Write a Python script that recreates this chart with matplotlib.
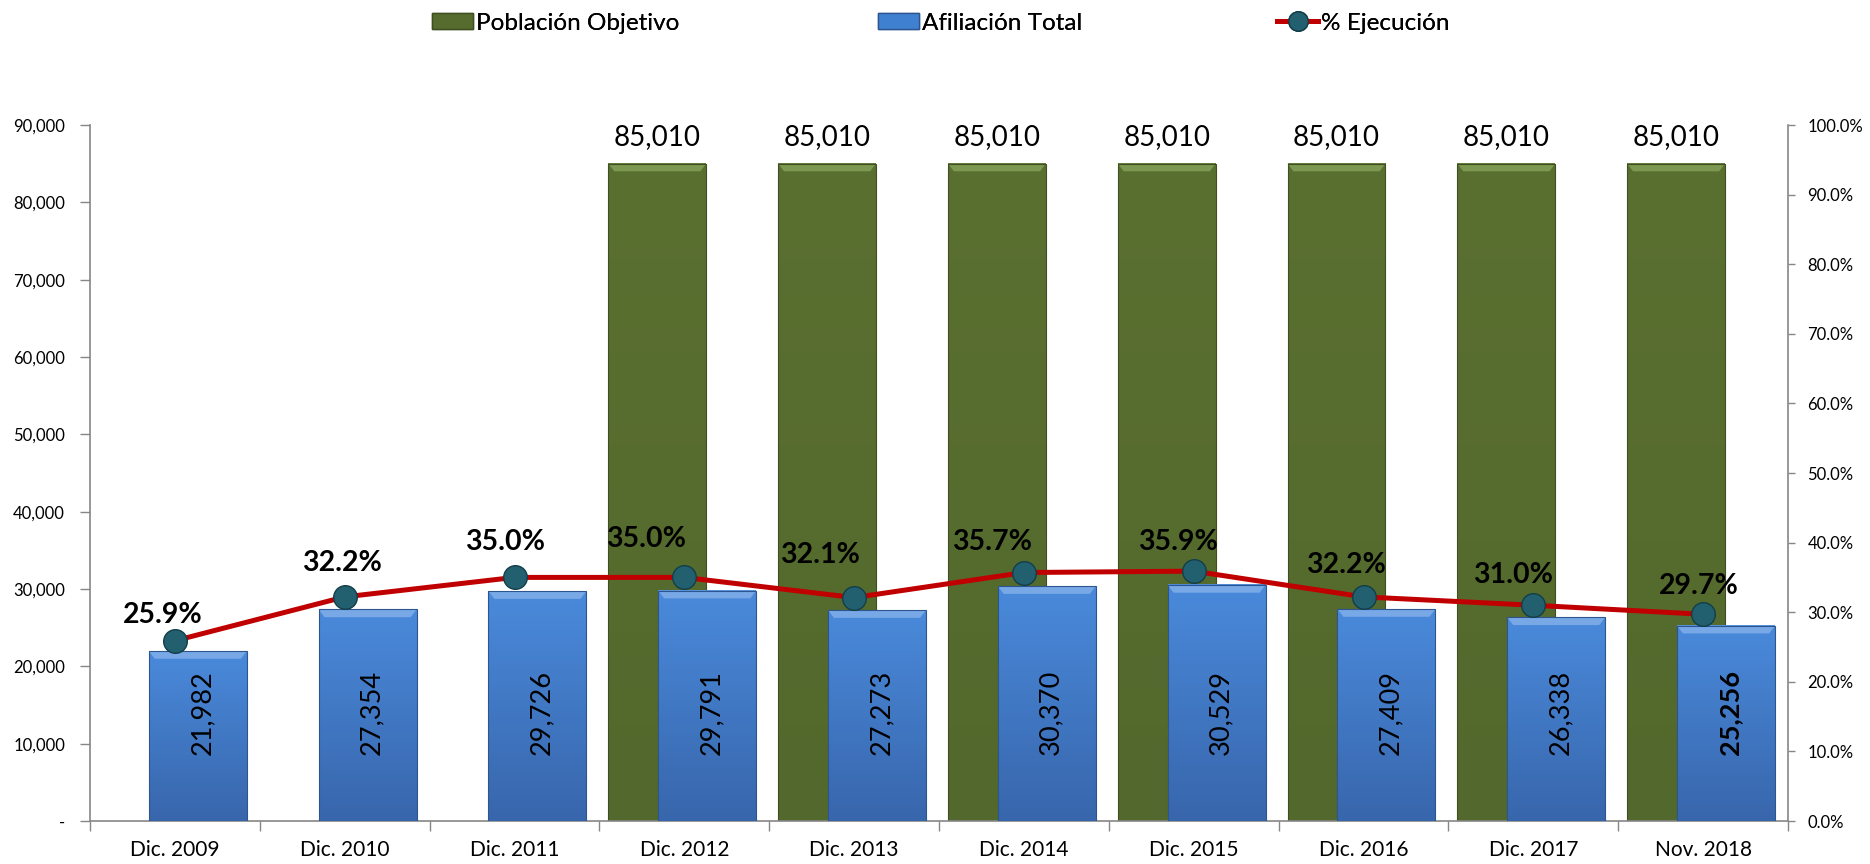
import numpy as np
import matplotlib
matplotlib.use("Agg")
import matplotlib.pyplot as plt
from matplotlib.patches import Patch, Polygon
from matplotlib.lines import Line2D
from matplotlib.ticker import FuncFormatter, MultipleLocator, FixedLocator
from matplotlib.colors import LinearSegmentedColormap

categories = ["Dic. 2009", "Dic. 2010", "Dic. 2011", "Dic. 2012", "Dic. 2013",
              "Dic. 2014", "Dic. 2015", "Dic. 2016", "Dic. 2017", "Nov. 2018"]
poblacion = [np.nan, np.nan, np.nan, 85010, 85010, 85010, 85010, 85010, 85010, 85010]
afiliacion = [21982, 27354, 29726, 29791, 27273, 30370, 30529, 27409, 26338, 25256]
ejecucion = [25.9, 32.2, 35.0, 35.0, 32.1, 35.7, 35.9, 32.2, 31.0, 29.7]

# label offsets for the % labels (pixels, relative to marker)
pct_offsets_px = [(-12, 26), (-3, 34), (-9, 35), (-38, 38), (-34, 43),
                  (-32, 31), (-16, 29), (-18, 32), (-20, 30), (-4, 28)]

plt.rcParams['font.family'] = ['Lato', 'DejaVu Sans']

fig = plt.figure(figsize=(18.7, 8.64), dpi=100)
ax = fig.add_axes([90/1870, 1-821/864, (1788-90)/1870, (821-125)/864])
ax2 = ax.twinx()

x = np.arange(len(categories))
w = 0.577
off_g = -0.159
off_b = 0.135

green = '#566B2E'
blue_top, blue_bot = '#4A8ADB', '#3866AC'
cmap_b = LinearSegmentedColormap.from_list('b', [blue_bot, blue_top])
cmap_g = LinearSegmentedColormap.from_list('g', ['#53682C', '#5A7031'])

bevel = 1000

def draw_bar(xc, h, cmap, edge, bevel_col, zorder):
    if np.isnan(h):
        return
    x0, x1 = xc - w/2, xc + w/2
    grad = np.linspace(0, 1, 256).reshape(-1, 1)
    ax.imshow(grad, extent=(x0, x1, 0, h), origin='lower', cmap=cmap,
              aspect='auto', zorder=zorder, interpolation='bicubic')
    ax.add_patch(plt.Rectangle((x0, 0), w, h, fill=False, edgecolor=edge,
                               linewidth=0.8, zorder=zorder + 0.1))
    dx = 0.035
    ax.add_patch(Polygon([(x0, h), (x1, h), (x1 - dx, h - bevel), (x0 + dx, h - bevel)],
                         closed=True, facecolor=bevel_col, edgecolor='none',
                         zorder=zorder + 0.05))

for i in range(len(categories)):
    draw_bar(x[i] + off_g, poblacion[i], cmap_g, '#3F4F22', '#7D9850', 2)
for i in range(len(categories)):
    draw_bar(x[i] + off_b, afiliacion[i], cmap_b, '#2D5590', '#78A9E6', 3)

# value labels
for i in range(len(categories)):
    if not np.isnan(poblacion[i]):
        ax.annotate(f"{poblacion[i]:,.0f}", (x[i] + off_g, poblacion[i]),
                    xytext=(0, 19), textcoords='offset points', ha='center',
                    va='center', fontsize=20, color='black', zorder=6)
for i in range(len(categories)):
    bold = (i == len(categories) - 1)
    ax.text(x[i] + off_b + 0.025, 14000, f"{afiliacion[i]:,.0f}", rotation=90,
            ha='center', va='center', fontsize=19.5,
            fontweight='bold' if bold else 'normal', color='black', zorder=6)

ax.set_xlim(-0.5, len(categories) - 0.5)
ax.set_ylim(0, 90000)
ax.yaxis.set_major_locator(MultipleLocator(10000))
ax.yaxis.set_major_formatter(FuncFormatter(lambda v, p: "-" if v == 0 else f"{v:,.0f}"))
ax.set_xticks(x)
ax.set_xticklabels(categories, fontsize=15)
ax.xaxis.set_minor_locator(FixedLocator(np.arange(-0.5, len(categories), 1.0)))
ax.tick_params(axis='x', which='major', length=0, pad=14)
ax.tick_params(axis='x', which='minor', length=7, width=1, color='#868686', direction='out')
ax.tick_params(axis='y', length=7, width=1, color='#868686', labelsize=12, pad=11, direction='out')

for s in ['top', 'right']:
    ax.spines[s].set_visible(False)
for s in ['left', 'bottom']:
    ax.spines[s].set_color('#868686')
    ax.spines[s].set_linewidth(1.2)

ax2.plot(x, ejecucion, color='#C00000', linewidth=3.6, zorder=4, solid_capstyle='round')
ax2.plot(x, ejecucion, linestyle='none', marker='o', markersize=17,
         markerfacecolor='#22606F', markeredgecolor='#123E48', markeredgewidth=1, zorder=5)
for i in range(len(categories)):
    dxp, dyp = pct_offsets_px[i]
    ax2.annotate(f"{ejecucion[i]:.1f}%", (x[i], ejecucion[i]),
                 xytext=(dxp * 0.72, dyp * 0.72),
                 textcoords='offset points', ha='center', va='center',
                 fontsize=20.5, fontweight='bold', color='black', zorder=6)
ax2.set_ylim(0, 100)
ax2.yaxis.set_major_locator(MultipleLocator(10))
ax2.yaxis.set_major_formatter(FuncFormatter(lambda v, p: f"{v:.1f}%"))
ax2.tick_params(axis='y', length=5, width=1, color='#868686', labelsize=12, pad=9, direction='out')
for s in ['top', 'left', 'bottom']:
    ax2.spines[s].set_visible(False)
ax2.spines['right'].set_color('#868686')
ax2.spines['right'].set_linewidth(1.2)

handles = [
    Patch(facecolor=green, edgecolor='#3F4F22'),
    Patch(facecolor='#4080D0', edgecolor='#2D5590'),
    Line2D([0], [0], color='#C00000', linewidth=3.6, marker='o', markersize=14,
           markerfacecolor='#22606F', markeredgecolor='#123E48'),
]
labels = ["Población Objetivo", "Afiliación Total", "% Ejecución"]
leg_x = [432, 878, 1277]
for h, lab, lx in zip(handles, labels, leg_x):
    lg = fig.legend([h], [lab], loc='center left', bbox_to_anchor=(lx/1870, 1-23/864),
                    frameon=False, fontsize=17.5, handlelength=1.7, handleheight=0.65,
                    handletextpad=0.1, borderpad=0, borderaxespad=0)
    fig.add_artist(lg)

fig.savefig("out.png", dpi=100)
